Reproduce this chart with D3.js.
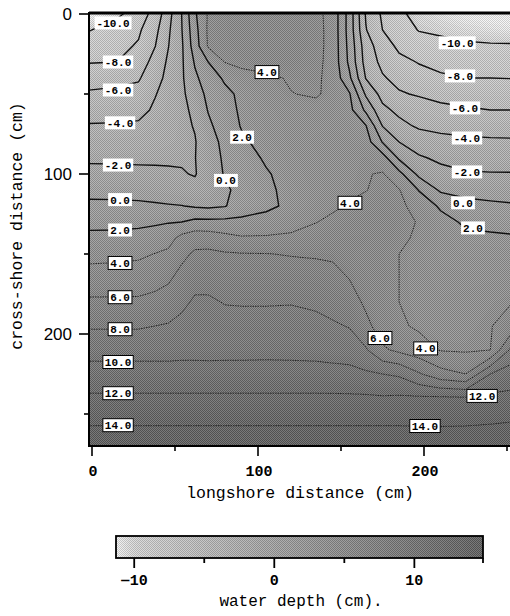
<!DOCTYPE html>
<html>
<head>
<meta charset="utf-8">
<script src="https://cdn.jsdelivr.net/npm/d3@7"></script>
<style>
  html, body { margin: 0; padding: 0; background: #fff; }
  svg { display: block; }
</style>
</head>
<body>
<svg id="chart" width="510" height="616"></svg>
<script>
// --- data ---

// grid columns: longshore distance (cm)
const gridX = [-2, 15, 28, 38, 46, 54, 62, 70, 80, 90, 105, 120, 135, 145, 155, 165, 175, 185, 197, 210, 225, 240, 253];
// grid rows: cross-shore distance (cm)
const gridY = [0, 10, 20, 30, 40, 50, 60, 70, 80, 90, 100, 110, 120, 130, 140, 150, 165, 180, 195, 210, 225, 240, 255, 270];

// water depth (cm), one row per gridY value
const depth = [
  [-11.7,-10.4,-9.0,-7.3,-4.7,-2.0,1.7,4.2,4.7,5.0,5.0,4.9,4.5,3.3,-0.8,-6.2,-8.3,-9.7,-10.5,-11.0,-11.5,-11.8,-12.0],
  [-10.1,-9.1,-8.3,-6.55,-4.3,-2.1,1.3,4.3,4.7,5.0,5.1,5.0,4.6,3.3,-0.8,-5.9,-8.0,-8.95,-10.1,-10.3,-10.7,-10.9,-11.1],
  [-9.2,-8.55,-7.8,-6.05,-4.05,-2.3,1.0,4.2,4.6,5.0,5.1,5.0,4.6,3.3,-0.6,-5.1,-7.05,-8.4,-9.0,-9.5,-9.7,-9.8,-9.8],
  [-8.1,-8.0,-7.05,-5.3,-3.7,-2.3,0.2,2.0,4.05,4.6,4.9,4.9,4.5,3.3,-0.4,-4.8,-6.5,-7.5,-8.1,-8.4,-8.6,-8.7,-8.8],
  [-6.8,-6.4,-6.2,-4.75,-3.45,-2.3,-0.35,0.95,2.3,3.1,3.6,4.2,4.3,3.4,0.4,-4.1,-5.8,-6.6,-7.3,-7.8,-8.0,-8.0,-8.05],
  [-5.75,-5.7,-5.4,-4.1,-3.25,-2.4,-0.95,0.45,1.5,2.4,3.2,3.95,4.2,3.5,2.2,-2.3,-4.7,-5.8,-6.2,-6.6,-6.8,-6.9,-6.9],
  [-4.8,-4.75,-4.6,-3.7,-3.1,-2.5,-1.55,0.1,1.2,2.3,2.9,3.2,3.4,3.3,2.6,-0.4,-3.5,-4.5,-5.0,-5.5,-5.8,-6.0,-6.0],
  [-3.85,-3.8,-3.7,-3.2,-2.8,-2.4,-1.9,-0.4,1.0,2.1,2.8,3.1,3.2,3.2,3.0,2.1,-2.05,-3.4,-4.3,-4.6,-4.7,-4.8,-4.8],
  [-3.1,-3.1,-3.0,-2.8,-2.6,-2.4,-2.1,-0.9,0.55,1.7,2.6,3.1,3.3,3.4,3.3,2.9,-0.1,-2.0,-2.8,-3.3,-3.6,-3.7,-3.75],
  [-2.3,-2.3,-2.3,-2.25,-2.2,-2.15,-2.05,-1.0,0.3,1.0,2.3,2.9,3.2,3.4,3.6,3.8,2.9,-0.3,-1.8,-2.3,-2.6,-2.75,-2.8],
  [-1.45,-1.5,-1.6,-1.7,-1.8,-1.9,-2.1,-1.2,0.15,1.0,1.8,2.8,3.2,3.4,3.6,3.9,4.15,2.6,-0.5,-1.5,-1.85,-1.9,-1.9],
  [-0.55,-0.6,-0.7,-0.9,-1.1,-1.3,-1.5,-1.2,-0.4,0.7,1.6,2.6,3.1,3.4,3.7,3.95,4.4,4.1,1.9,-0.3,-0.6,-0.75,-0.85],
  [0.4,0.4,0.35,0.25,0.15,0.05,-0.2,-0.35,-0.1,0.8,1.5,2.5,3.3,3.7,4.15,4.5,4.7,4.4,3.3,1.7,0.6,0.35,0.2],
  [1.45,1.5,1.6,1.75,1.9,2.0,2.5,2.5,2.5,2.55,2.9,3.4,3.95,4.4,4.8,5.0,5.0,4.7,3.85,2.7,1.7,1.5,1.35],
  [2.5,2.5,2.6,2.85,3.25,4.6,5.2,5.1,4.6,4.2,4.2,4.3,4.8,5.1,5.3,5.3,5.1,4.5,3.6,2.9,2.4,2.3,2.2],
  [3.4,3.5,3.65,4.05,4.4,5.5,6.3,6.4,6.2,6.1,6.05,5.9,5.8,5.7,5.3,5.0,4.8,4.0,3.3,2.9,2.7,2.65,2.6],
  [4.85,4.9,5.0,5.3,5.7,6.65,7.3,7.3,7.05,7.0,7.0,6.9,6.8,6.6,5.95,5.3,5.0,4.0,3.4,3.1,3.1,3.15,3.2],
  [6.3,6.3,6.3,6.55,6.9,7.5,8.3,8.3,7.9,7.85,7.85,7.9,7.65,7.25,7.0,5.6,4.8,4.0,3.5,3.3,3.4,3.7,3.95],
  [7.8,7.8,7.8,8.0,8.15,8.6,8.9,8.9,8.75,8.7,8.7,8.7,8.55,8.25,7.9,6.55,5.0,4.3,3.7,3.5,3.6,3.9,5.0],
  [9.3,9.3,9.3,9.3,9.3,9.4,9.4,9.35,9.4,9.4,9.45,9.4,9.3,9.1,9.05,8.2,6.3,5.6,4.9,3.9,3.8,4.0,8.6],
  [10.8,10.8,10.8,10.8,10.8,10.8,10.8,10.8,10.8,10.8,10.8,10.8,10.8,10.75,10.6,10.3,10.0,9.7,8.2,6.7,6.0,10.0,11.0],
  [12.3,12.3,12.3,12.3,12.3,12.3,12.3,12.3,12.3,12.3,12.3,12.3,12.3,12.3,12.3,12.3,12.2,12.3,12.3,12.3,12.2,12.5,12.5],
  [13.8,13.8,13.8,13.8,13.8,13.8,13.8,13.8,13.8,13.8,13.8,13.8,13.8,13.8,13.8,13.8,13.8,13.8,13.75,13.75,13.8,13.9,14.0],
  [15.1,15.1,15.1,15.1,15.1,15.1,15.1,15.1,15.1,15.1,15.1,15.1,15.1,15.1,15.1,15.1,15.1,15.1,15.1,15.1,15.0,15.0,15.0]
];

// contour levels that get a line
const contourLevels = [-10, -8, -6, -4, -2, 0, 2, 4, 6, 8, 10, 12, 14];

// contour labels: [value, longshore cm, cross-shore cm]
const contourLabels = [
  [-10, 12.7, 5.6], [-8, 15.7, 30], [-6, 15.7, 47.5], [-4, 16.9, 68], [-2, 15.7, 94.4],
  [0, 16.9, 116], [2, 16.9, 135], [4, 16.9, 155.6], [6, 16.9, 177], [8, 16.9, 197],
  [10, 15.7, 217.5], [12, 15.7, 237], [14, 15.7, 257],
  [4, 105.4, 36.3], [2, 90.4, 77], [0, 80.7, 104], [4, 155.4, 118],
  [6, 173.5, 202.5], [4, 201, 209], [14, 200.6, 257.5], [12, 235, 238.7],
  [-10, 220, 18], [-8, 221.7, 38.7], [-6, 224.7, 58.7], [-4, 225.9, 77.5],
  [-2, 225.9, 98.7], [0, 223.5, 118], [2, 229.5, 133.7]
];

// axis ticks
const xMajor = [0, 100, 200];
const xMinor = [50, 150, 250];
const yMajor = [0, 100, 200];
const yMinor = [50, 150, 250];
const cbMajor = [-10, 0, 10];
const cbMinor = [-5, 5, 15];

// --- setup ---
const svg = d3.select("#chart");
const mono = "'Liberation Mono', 'DejaVu Sans Mono', monospace";

const x = d3.scaleLinear().domain([0, 250]).range([92, 507]);
const y = d3.scaleLinear().domain([0, 270]).range([14, 446]);
const plotL = 89, plotT = 13, plotR = 511, plotB = 446;

// grey ramp, light = shallow / above water, dark = deep
const gray = d3.scaleLinear()
  .domain([-11.3, -10, 0, 15])
  .range(["#f4f4f4", "#d6d6d6", "#a2a2a2", "#5e5e5e"])
  .clamp(true);

const defs = svg.append("defs");
defs.append("clipPath").attr("id", "plot-clip")
  .append("rect")
  .attr("x", plotL).attr("y", plotT)
  .attr("width", plotR - plotL).attr("height", plotB - plotT);

// halftone-ish texture like the scanned print
const pat = defs.append("pattern").attr("id", "dither")
  .attr("width", 2).attr("height", 2).attr("patternUnits", "userSpaceOnUse");
pat.append("rect").attr("width", 1).attr("height", 1).attr("fill", "#000").attr("opacity", 0.16);
pat.append("rect").attr("x", 1).attr("y", 1).attr("width", 1).attr("height", 1).attr("fill", "#000").attr("opacity", 0.16);
pat.append("rect").attr("x", 1).attr("width", 1).attr("height", 1).attr("fill", "#fff").attr("opacity", 0.16);
pat.append("rect").attr("y", 1).attr("width", 1).attr("height", 1).attr("fill", "#fff").attr("opacity", 0.16);

// grid index -> data coords (grid is not evenly spaced)
const nx = gridX.length, ny = gridY.length;
const values = depth.flat();
const gx = d3.scaleLinear().domain(gridX.map((_, i) => i + 0.5)).range(gridX);
const gy = d3.scaleLinear().domain(gridY.map((_, i) => i + 0.5)).range(gridY);
const path = d3.geoPath(d3.geoTransform({
  point(px, py) { this.stream.point(x(gx(px)), y(gy(py))); }
}));

// --- filled shading ---
const step = 0.25;
const fillLevels = d3.range(-12, 16, step);
const bands = d3.contours().size([nx, ny]).thresholds(fillLevels)(values);

const g = svg.append("g").attr("clip-path", "url(#plot-clip)");
g.append("rect")
  .attr("x", plotL).attr("y", plotT)
  .attr("width", plotR - plotL).attr("height", plotB - plotT)
  .attr("fill", gray(-12));

g.selectAll("path.band")
  .data(bands)
  .join("path")
  .attr("class", "band")
  .attr("d", path)
  .attr("fill", d => gray(d.value + step / 2))
  .attr("stroke", d => gray(d.value + step / 2))
  .attr("stroke-width", 0.4);

g.append("rect")
  .attr("x", plotL).attr("y", plotT)
  .attr("width", plotR - plotL).attr("height", plotB - plotT)
  .attr("fill", "url(#dither)");

// --- contour lines ---
const lines = d3.contours().size([nx, ny]).thresholds(contourLevels)(values);
g.selectAll("path.iso")
  .data(lines)
  .join("path")
  .attr("class", "iso")
  .attr("d", path)
  .attr("fill", "none")
  .attr("stroke", d => d.value <= 2 ? "#111" : "#222")
  .attr("stroke-width", d => d.value <= 2 ? 1.4 : 1)
  .attr("stroke-dasharray", d => d.value <= 2 ? null : "1.5,1");

// --- contour labels ---
const lab = g.selectAll("g.lab")
  .data(contourLabels)
  .join("g")
  .attr("class", "lab")
  .attr("transform", d => `translate(${x(d[1])},${y(d[2])})`);

lab.append("rect")
  .attr("x", d => -(d[0].toFixed(1).length * 6.6 + 4) / 2)
  .attr("y", -6.5)
  .attr("width", d => d[0].toFixed(1).length * 6.6 + 4)
  .attr("height", 13)
  .attr("fill", "#fff")
  .attr("stroke", d => d[0] >= 4 ? "#000" : "none")
  .attr("stroke-width", 1);

lab.append("text")
  .attr("text-anchor", "middle")
  .attr("dy", "0.36em")
  .style("font-family", mono)
  .style("font-size", "11px")
  .style("font-weight", "bold")
  .text(d => d[0].toFixed(1));

// --- frame + axes ---
svg.append("rect")
  .attr("x", plotL).attr("y", plotT)
  .attr("width", plotR - plotL).attr("height", plotB - plotT)
  .attr("fill", "none").attr("stroke", "#000").attr("stroke-width", 2);
svg.append("line")
  .attr("x1", plotL).attr("x2", plotR).attr("y1", plotT).attr("y2", plotT)
  .attr("stroke", "#000").attr("stroke-width", 3);

const axes = svg.append("g").attr("stroke", "#000").attr("stroke-width", 1.6);
axes.selectAll("line.yM").data(yMajor).join("line")
  .attr("x1", plotL - 10).attr("x2", plotL).attr("y1", d => y(d)).attr("y2", d => y(d));
axes.selectAll("line.ym").data(yMinor).join("line")
  .attr("x1", plotL - 5).attr("x2", plotL).attr("y1", d => y(d)).attr("y2", d => y(d));
axes.selectAll("line.xM").data(xMajor).join("line")
  .attr("x1", d => x(d)).attr("x2", d => x(d)).attr("y1", plotB).attr("y2", plotB + 10);
axes.selectAll("line.xm").data(xMinor).join("line")
  .attr("x1", d => x(d)).attr("x2", d => x(d)).attr("y1", plotB).attr("y2", plotB + 5);

svg.selectAll("text.ytick").data(yMajor).join("text")
  .attr("class", "ytick")
  .attr("x", 72).attr("y", d => y(d))
  .attr("dy", "0.36em")
  .attr("text-anchor", "end")
  .style("font-family", "'Liberation Sans', Arial, sans-serif")
  .style("font-size", "17px")
  .text(d => d);

svg.selectAll("text.xtick").data(xMajor).join("text")
  .attr("class", "xtick")
  .attr("x", d => x(d) + 1).attr("y", 476)
  .attr("text-anchor", "middle")
  .style("font-family", mono)
  .style("font-size", "15px")
  .style("font-weight", "bold")
  .text(d => d);

svg.append("text")
  .attr("x", 300).attr("y", 498)
  .attr("text-anchor", "middle")
  .style("font-family", mono)
  .style("font-size", "16.5px")
  .text("longshore distance (cm)");

svg.append("text")
  .attr("transform", "translate(22,226) rotate(-90)")
  .attr("text-anchor", "middle")
  .style("font-family", mono)
  .style("font-size", "16.5px")
  .text("cross-shore distance (cm)");

// --- colour bar ---
const cb = d3.scaleLinear().domain([-11.3, 14.9]).range([116, 483]);
const cbTop = 536, cbBot = 558;

const grad = defs.append("linearGradient").attr("id", "cb-grad")
  .attr("x1", "0%").attr("x2", "100%");
d3.range(0, 51).forEach(i => {
  const v = cb.domain()[0] + (cb.domain()[1] - cb.domain()[0]) * i / 50;
  grad.append("stop").attr("offset", `${i * 2}%`).attr("stop-color", gray(v));
});

svg.append("rect")
  .attr("x", cb(-11.3)).attr("y", cbTop)
  .attr("width", cb(14.9) - cb(-11.3)).attr("height", cbBot - cbTop)
  .attr("fill", "url(#cb-grad)");
svg.append("rect")
  .attr("x", cb(-11.3)).attr("y", cbTop)
  .attr("width", cb(14.9) - cb(-11.3)).attr("height", cbBot - cbTop)
  .attr("fill", "url(#dither)")
  .attr("stroke", "#000").attr("stroke-width", 1.8);

const cbAxis = svg.append("g").attr("stroke", "#000").attr("stroke-width", 1.8);
cbAxis.selectAll("line.M").data(cbMajor).join("line")
  .attr("x1", d => cb(d)).attr("x2", d => cb(d)).attr("y1", cbBot).attr("y2", cbBot + 10);
cbAxis.selectAll("line.m").data(cbMinor).join("line")
  .attr("x1", d => Math.min(cb(d), 483)).attr("x2", d => Math.min(cb(d), 483))
  .attr("y1", cbBot).attr("y2", cbBot + 5);

svg.selectAll("text.cbtick").data(cbMajor).join("text")
  .attr("class", "cbtick")
  .attr("x", d => cb(d)).attr("y", 585)
  .attr("text-anchor", "middle")
  .style("font-family", mono)
  .style("font-size", "15px")
  .style("font-weight", "bold")
  .text(d => d === -10 ? "\u201210" : d);

svg.append("text")
  .attr("x", 301).attr("y", 606)
  .attr("text-anchor", "middle")
  .style("font-family", mono)
  .style("font-size", "16px")
  .text("water depth (cm).");
</script>
</body>
</html>
